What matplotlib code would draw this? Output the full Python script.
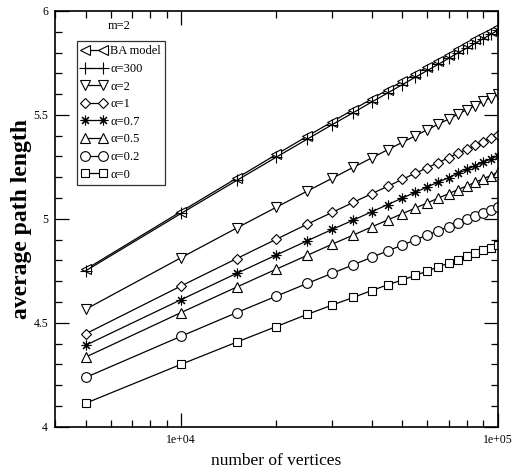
import numpy as np
import matplotlib
matplotlib.use("Agg")
import matplotlib.pyplot as plt
from matplotlib.ticker import FixedLocator, FuncFormatter, MultipleLocator, LogLocator, NullFormatter

plt.rcParams['font.family'] = ['Liberation Serif', 'DejaVu Serif']

# network sizes
n_vertices = [5000, 10000, 15000, 20000, 25000, 30000, 35000, 40000, 45000, 50000,
              55000, 60000, 65000, 70000, 75000, 80000, 85000, 90000, 95000, 100000]

# average path length per model
ba_model = [4.757, 5.035, 5.196, 5.310, 5.397, 5.467, 5.526, 5.577, 5.622, 5.662,
            5.698, 5.731, 5.761, 5.789, 5.816, 5.840, 5.863, 5.885, 5.905, 5.925]
alpha_300 = [4.750, 5.026, 5.185, 5.297, 5.383, 5.453, 5.511, 5.562, 5.606, 5.646,
             5.682, 5.714, 5.744, 5.772, 5.799, 5.822, 5.845, 5.867, 5.887, 5.907]
alpha_2 = [4.565, 4.813, 4.956, 5.056, 5.133, 5.195, 5.248, 5.293, 5.333, 5.368,
           5.400, 5.429, 5.456, 5.480, 5.504, 5.526, 5.545, 5.565, 5.583, 5.601]
alpha_1 = [4.447, 4.677, 4.809, 4.902, 4.974, 5.031, 5.079, 5.121, 5.157, 5.190,
           5.220, 5.246, 5.271, 5.294, 5.316, 5.335, 5.354, 5.372, 5.388, 5.405]
alpha_07 = [4.392, 4.611, 4.738, 4.826, 4.894, 4.949, 4.994, 5.034, 5.069, 5.100,
            5.128, 5.154, 5.177, 5.198, 5.219, 5.238, 5.256, 5.273, 5.288, 5.304]
alpha_05 = [4.335, 4.549, 4.672, 4.758, 4.824, 4.878, 4.922, 4.961, 4.995, 5.025,
            5.052, 5.077, 5.100, 5.121, 5.141, 5.159, 5.176, 5.193, 5.208, 5.224]
alpha_02 = [4.237, 4.435, 4.549, 4.628, 4.689, 4.738, 4.779, 4.815, 4.846, 4.874,
            4.899, 4.922, 4.943, 4.962, 4.981, 4.998, 5.013, 5.029, 5.043, 5.057]
alpha_0 = [4.113, 4.300, 4.407, 4.482, 4.540, 4.585, 4.622, 4.655, 4.683, 4.706,
           4.728, 4.749, 4.769, 4.787, 4.804, 4.820, 4.835, 4.849, 4.862, 4.874]

labels = ['BA model', '\u03b1=300', '\u03b1=2', '\u03b1=1', '\u03b1=0.7', '\u03b1=0.5', '\u03b1=0.2', '\u03b1=0']
series = [ba_model, alpha_300, alpha_2, alpha_1, alpha_07, alpha_05, alpha_02, alpha_0]
markers = ['<', '+', 'v', 'D', (8, 2, 0), '^', 'o', 's']
sizes = [7.5, 8, 7.5, 5.5, 7, 7.5, 7, 6]

fig = plt.figure(figsize=(5.22, 4.74), dpi=100)
ax = fig.add_axes([0.1054, 0.0998, 0.848, 0.877])

for ys, lab, mk, ms in zip(series, labels, markers, sizes):
    ax.plot(n_vertices, ys, color='black', lw=0.9, marker=mk, ms=ms,
            mfc='white', mec='black', mew=0.8, label=lab)

ax.set_xscale('log')
ax.set_xlim(4000, 100000)
ax.set_ylim(4, 6)

ax.xaxis.set_major_locator(FixedLocator([1e4, 1e5]))
ax.xaxis.set_major_formatter(FuncFormatter(lambda v, p: '1e+%02d' % int(round(np.log10(v)))))
ax.xaxis.set_minor_locator(LogLocator(base=10, subs=np.arange(2, 10)))
ax.xaxis.set_minor_formatter(NullFormatter())
ax.yaxis.set_major_locator(MultipleLocator(0.5))
ax.yaxis.set_minor_locator(MultipleLocator(0.1))
ax.yaxis.set_major_formatter(FuncFormatter(lambda v, p: '%g' % v))

ax.tick_params(which='both', direction='in', top=True, right=True, width=0.9)
ax.tick_params(which='major', length=10, labelsize=8.5, pad=5)
ax.tick_params(which='minor', length=5)
for sp in ax.spines.values():
    sp.set_linewidth(1.2)

ax.set_xlabel('number of vertices', fontsize=12.5, labelpad=5)
ax.set_ylabel('average path length', fontsize=17, fontweight='bold', labelpad=1)

ax.text(0.118, 0.964, 'm=2', transform=ax.transAxes, fontsize=9, ha='left', va='center')

leg = ax.legend(loc='upper left', bbox_to_anchor=(0.05, 0.928), numpoints=2,
                handlelength=2.0, handletextpad=0.3, labelspacing=0.45, borderpad=0.35,
                fontsize=9, frameon=True, fancybox=False, borderaxespad=0)
leg.get_frame().set_edgecolor('black')
leg.get_frame().set_linewidth(0.9)

fig.savefig('out.png', dpi=100)
